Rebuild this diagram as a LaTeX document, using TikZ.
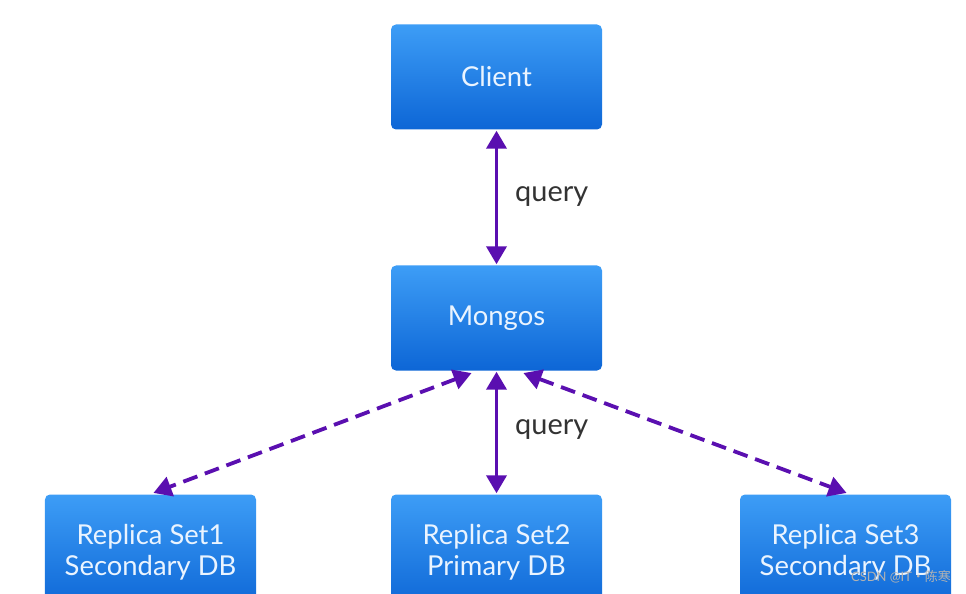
\documentclass[tikz,border=0pt]{standalone}
\usepackage{fontspec}
\setmainfont{Lato}
\newfontfamily\cjkfont{Noto Sans CJK SC}
\usetikzlibrary{arrows.meta,calc}
\definecolor{boxtop}{HTML}{3D9DF6}
\definecolor{boxbot}{HTML}{0D66D6}
\definecolor{boxtext}{HTML}{EAF4FF}
\definecolor{arrowc}{HTML}{5A0FB0}
\definecolor{labelc}{HTML}{333333}
\tikzset{
  dbbox/.style={rounded corners=5bp, top color=boxtop, bottom color=boxbot,
    draw=none, minimum width=211bp, minimum height=105bp, inner sep=0pt,
    text=boxtext, font=\fontsize{27.5}{31}\selectfont, align=center},
  link/.style={line width=3.8bp, draw=arrowc,
    {Triangle[width=20bp,length=18bp]}-{Triangle[width=20bp,length=18bp]}, shorten <=1bp, shorten >=1bp},
  dlink/.style={link, dash pattern=on 15bp off 8bp},
  qlabel/.style={text=labelc, font=\fontsize{29}{33}\selectfont, anchor=west, inner sep=0pt}
}
\begin{document}
\begin{tikzpicture}[x=1bp,y=-1bp]
\useasboundingbox (0,0) rectangle (966,594);
\clip (0,0) rectangle (966,594);
\node[dbbox] (client) at (496.5,77) {Client};
\node[dbbox] (mongos) at (496.5,318) {Mongos};
\node[dbbox, minimum height=115bp] (rs1) at (150.5,552) {Replica Set1\\Secondary DB};
\node[dbbox, minimum height=115bp] (rs2) at (496.5,552) {Replica Set2\\Primary DB};
\node[dbbox, minimum height=115bp] (rs3) at (845.5,552) {Replica Set3\\Secondary DB};
\coordinate (mL) at ($(mongos.south)+(-24,2)$);
\coordinate (mR) at ($(mongos.south)+(26,2)$);
\coordinate (r1t) at ($(rs1.north)+(2,-1)$);
\coordinate (r3t) at ($(rs3.north)+(2,-1)$);
\draw[link] (client.south) -- (mongos.north);
\draw[link] (mongos.south) -- (rs2.north);
\draw[dlink] (mL) -- (r1t);
\draw[dlink] (mR) -- (r3t);
\node[qlabel] (q1) at (515,197) {query};
\node[qlabel] (q2) at (515,430) {query};
\node[text=gray!60, font=\fontsize{13}{15}\selectfont, anchor=east, inner sep=0pt] (wm) at (951,577) {CSDN @IT{\cjkfont ·陈寒}};
\end{tikzpicture}
\end{document}
